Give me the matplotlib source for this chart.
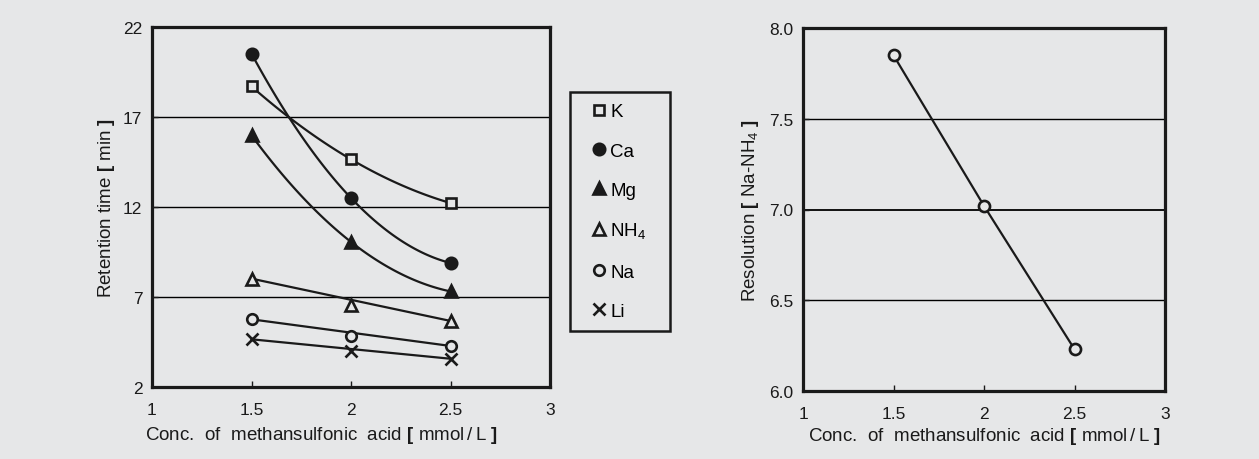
import numpy as np
import matplotlib
matplotlib.use("Agg")
import matplotlib.pyplot as plt
from matplotlib.lines import Line2D
from matplotlib.patches import Rectangle

plt.rcParams['font.family'] = ['Liberation Sans', 'DejaVu Sans']
plt.rcParams['mathtext.fontset'] = 'custom'
plt.rcParams['mathtext.rm'] = 'Liberation Sans'
plt.rcParams['mathtext.bf'] = 'Liberation Sans:bold'

# eluent concentration [mmol/L]
conc = [1.5, 2.0, 2.5]

# retention times [min]
rt_k = [18.7, 14.65, 12.22]
rt_ca = [20.52, 12.5, 8.89]
rt_mg = [15.98, 10.06, 7.31]
rt_nh4 = [8.02, 6.54, 5.67]
rt_na = [5.76, 4.81, 4.28]
rt_li = [4.65, 3.98, 3.57]

# resolution Na-NH4
resolution = [7.85, 7.02, 6.23]

x_ticks = [1, 1.5, 2, 2.5, 3]
x_ticklabels = ['1', '1.5', '2', '2.5', '3']
rt_ticks = [2, 7, 12, 17, 22]
res_ticks = [6.0, 6.5, 7.0, 7.5, 8.0]

bg = '#e6e7e8'
ink = '#1a1a1a'
fs = 13.5
tfs = 12.5
W, H = 1259, 460

fig = plt.figure(figsize=(W / 100, H / 100), dpi=100, facecolor=bg)
ax1 = fig.add_axes([152/W, 72/H, 398/W, 360/H], facecolor=bg)
ax2 = fig.add_axes([803/W, 68/H, 362/W, 363/H], facecolor=bg)

xlabel = r'Conc.  of  methansulfonic  acid $\mathbf{[}$ mmol$\,$/$\,$L $\mathbf{]}$'

# (label, data, marker, size, filled, curved)
series = [
    ('K', rt_k, 's', 7.3, False, True),
    ('Ca', rt_ca, 'o', 8.2, True, True),
    ('Mg', rt_mg, '^', 8.2, True, True),
    ('NH$_4$', rt_nh4, '^', 8.2, False, False),
    ('Na', rt_na, 'o', 7.6, False, False),
    ('Li', rt_li, 'x', 8.8, False, False),
]

handles = []
for label, y, m, ms, filled, curved in series:
    if curved:
        coef = np.polyfit(conc, y, 2)
        xs = np.linspace(conc[0], conc[-1], 100)
        ax1.plot(xs, np.polyval(coef, xs), color=ink, lw=1.6, zorder=3)
    else:
        ax1.plot([conc[0], conc[-1]], [y[0], y[-1]], color=ink, lw=1.6, zorder=3)
    face = ink if filled else bg
    kw = dict(marker=m, ms=ms, mfc=face, mec=ink, mew=1.9, ls='none')
    ax1.plot(conc, y, zorder=4, **kw)
    handles.append(Line2D([], [], label=label, **kw))

for v in rt_ticks[1:-1]:
    ax1.axhline(v, color='black', lw=1.0, zorder=1)

ax1.set_xlim(1, 3)
ax1.set_ylim(2, 22)
ax1.set_xticks(x_ticks, x_ticklabels)
ax1.set_yticks(rt_ticks)
ax1.set_xlabel(xlabel, fontsize=fs, color=ink, labelpad=5)
ax1.xaxis.label.set_x(0.427)
ax1.set_ylabel(r'Retention time $\mathbf{[}$ min $\mathbf{]}$', fontsize=fs, color=ink,
               labelpad=4)

# legend: markers and labels, with its own box
fig.legend(handles=handles, loc='center left', bbox_to_anchor=(589.5/W, 1 - 212.5/H),
           fontsize=fs, frameon=False, labelspacing=1.18, handlelength=1.0,
           handletextpad=0.1, borderpad=0, borderaxespad=0)
fig.add_artist(Rectangle((570/W, 1 - 332/H), 100/W, 239/H, transform=fig.transFigure,
                         fill=False, lw=1.8, ec=ink))

ax2.plot(conc, resolution, color=ink, lw=1.6, marker='o', ms=8.0,
         mfc=bg, mec=ink, mew=1.9, zorder=4)
for v in res_ticks[1:-1]:
    ax2.axhline(v, color='black', lw=1.3 if v == 7.0 else 1.0, zorder=1)
ax2.set_xlim(1, 3)
ax2.set_ylim(6.0, 8.0)
ax2.set_xticks(x_ticks, x_ticklabels)
ax2.set_yticks(res_ticks, ['%.1f' % v for v in res_ticks])
ax2.set_xlabel(xlabel, fontsize=fs, color=ink, labelpad=3)
ax2.set_ylabel(r'Resolution $\mathbf{[}$ Na-NH$_4$ $\mathbf{]}$', fontsize=fs, color=ink,
               labelpad=6)

for ax in (ax1, ax2):
    for s in ax.spines.values():
        s.set_linewidth(2.3)
        s.set_color(ink)
    ax.tick_params(direction='in', length=4, width=1, labelsize=tfs, colors=ink,
                   pad=11)
    ax.tick_params(axis='y', pad=7)

fig.savefig('out.png', dpi=100, facecolor=bg)
